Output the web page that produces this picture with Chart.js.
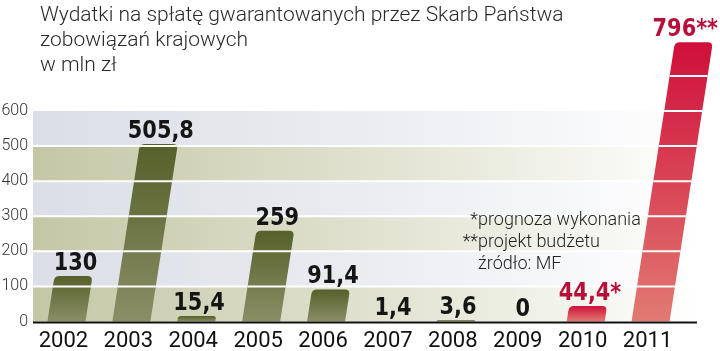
<!DOCTYPE html>
<html>
<head>
<meta charset="utf-8">
<script src="https://cdn.jsdelivr.net/npm/chart.js@4.4.0/dist/chart.umd.min.js"></script>
<style>
  html, body { margin: 0; padding: 0; background: #fff; }
</style>
</head>
<body>
<canvas id="c" width="720" height="351"></canvas>
<script>
// data
const years = ['2002', '2003', '2004', '2005', '2006', '2007', '2008', '2009', '2010', '2011'];
const values = [130, 505.8, 15.4, 259, 91.4, 1.4, 3.6, 0, 44.4, 796];
const valueLabels = ['130', '505,8', '15,4', '259', '91,4', '1,4', '3,6', '0', '44,4*', '796**'];
const isPlan = [false, false, false, false, false, false, false, false, true, true];
const yTicks = [0, 100, 200, 300, 400, 500, 600];
const titleLines = [
  'Wydatki na spłatę gwarantowanych przez Skarb Państwa',
  'zobowiązań krajowych',
  'w mln zł'
];
const notes = [['*', 'prognoza wykonania'], ['**', 'projekt budżetu'], ['', 'źródło: MF']];

const SKEW = 0.155; // bars lean right

function barPath(ctx, xb, top, base, w) {
  const h = base - top;
  const r = Math.min(5, h / 2);
  const dx = SKEW * h;
  const bl = xb - w / 2, br = xb + w / 2;
  const tl = bl + dx, tr = br + dx;
  ctx.beginPath();
  ctx.moveTo(bl, base);
  ctx.lineTo(tl - SKEW * r, top + r);
  ctx.quadraticCurveTo(tl, top, tl + r, top);
  ctx.lineTo(tr - r, top);
  ctx.quadraticCurveTo(tr, top, tr - SKEW * r, top + r);
  ctx.lineTo(br, base);
  ctx.closePath();
}

const paint = {
  id: 'paint',
  beforeDatasetsDraw(chart) {
    const { ctx, chartArea: a, scales: { y } } = chart;
    ctx.save();
    for (let i = 0; i < yTicks.length - 1; i++) {
      const y0 = y.getPixelForValue(yTicks[i]);
      const y1 = y.getPixelForValue(yTicks[i + 1]);
      const g = ctx.createLinearGradient(a.left, 0, a.right + 20, 0);
      if (i % 2 === 0) {
        g.addColorStop(0, '#c4c7a6');
        g.addColorStop(0.55, '#e3e4d3');
      } else {
        g.addColorStop(0, '#dbdee6');
        g.addColorStop(0.55, '#eceef2');
      }
      g.addColorStop(1, '#ffffff');
      ctx.fillStyle = g;
      ctx.fillRect(a.left + 2, y1, a.right + 20 - a.left, y0 - y1);
    }
    ctx.strokeStyle = '#ffffff';
    ctx.lineWidth = 2;
    yTicks.slice(1, -1).forEach(v => {
      const py = y.getPixelForValue(v);
      ctx.beginPath();
      ctx.moveTo(a.left + 2, py);
      ctx.lineTo(a.right + 20, py);
      ctx.stroke();
    });
    ctx.restore();
  },
  afterDatasetsDraw(chart) {
    const { ctx, chartArea: a, scales: { y } } = chart;
    const meta = chart.getDatasetMeta(0);
    meta.data.forEach((el, i) => {
      const p = el.getProps(['x', 'y', 'base', 'width'], true);
      const xb = p.x + 3;
      const h = p.base - p.y;
      ctx.save();
      if (h > 0.5) {
        const g = ctx.createLinearGradient(0, p.y, 0, p.base);
        if (isPlan[i]) {
          g.addColorStop(0, '#cf0f3a');
          g.addColorStop(1, '#e27a72');
        } else {
          g.addColorStop(0, '#56602a');
          g.addColorStop(1, '#8a8e66');
        }
        barPath(ctx, xb, p.y, p.base, p.width);
        ctx.fillStyle = g;
        ctx.fill();
        // white grid lines cut across the bar
        ctx.clip();
        ctx.strokeStyle = '#ffffff';
        ctx.lineWidth = 2;
        for (let v = 100; v < values[i]; v += 100) {
          const py = y.getPixelForValue(v);
          ctx.beginPath();
          ctx.moveTo(xb - 40, py);
          ctx.lineTo(xb + 200, py);
          ctx.stroke();
        }
      }
      ctx.restore();
      // value label above top of bar (narrowed bold face)
      ctx.save();
      const sx = 0.87;
      ctx.font = 'bold 24px "DejaVu Sans", sans-serif';
      ctx.fillStyle = isPlan[i] ? '#b70f3a' : '#151515';
      ctx.textAlign = 'center';
      ctx.textBaseline = 'alphabetic';
      const w = ctx.measureText(valueLabels[i]).width * sx;
      let cx = xb + SKEW * h + 2;
      cx = Math.min(cx, chart.width - 2 - w / 2);
      ctx.translate(cx, p.y - 6);
      ctx.scale(sx, 1);
      ctx.fillText(valueLabels[i], 0, 0);
      ctx.restore();
    });
    // base line
    const y0 = y.getPixelForValue(0);
    ctx.save();
    ctx.strokeStyle = '#111';
    ctx.lineWidth = 2;
    ctx.beginPath();
    ctx.moveTo(a.left + 2, y0 + 1);
    ctx.lineTo(a.right + 17, y0 + 1);
    ctx.stroke();
    ctx.restore();
  },
  afterDraw(chart) {
    const { ctx } = chart;
    ctx.save();
    ctx.fillStyle = '#2a2a2a';
    ctx.font = '300 21px Roboto, sans-serif';
    titleLines.forEach((t, i) => ctx.fillText(t, 40, 21 + i * 25));
    ctx.font = '300 18px Roboto, sans-serif';
    ctx.fillStyle = '#222';
    notes.forEach(([star, txt], i) => {
      const by = 225 + i * 22;
      ctx.textAlign = 'right';
      ctx.fillText(star, 478, by);
      ctx.textAlign = 'left';
      ctx.fillText(txt, 478, by);
    });
    ctx.restore();
  }
};

new Chart(document.getElementById('c'), {
  type: 'bar',
  data: {
    labels: years,
    datasets: [{
      data: values,
      backgroundColor: 'rgba(0,0,0,0)',
      borderWidth: 0,
      barThickness: 38,
      clip: false
    }]
  },
  options: {
    responsive: false,
    animation: false,
    layout: { padding: { top: 111, right: 40, left: 0, bottom: 0 } },
    plugins: { legend: { display: false }, tooltip: { enabled: false } },
    scales: {
      x: {
        afterFit(scale) { scale.height = 29.5; },
        grid: { display: false, drawTicks: false },
        border: { display: false },
        ticks: {
          color: '#111',
          padding: 6,
          font: { family: 'Roboto', size: 22, weight: '400', lineHeight: 1.27 }
        }
      },
      y: {
        min: 0,
        max: 600,
        afterFit(scale) { scale.width = 31; },
        afterBuildTicks(scale) { scale.ticks = yTicks.map(v => ({ value: v })); },
        grid: { display: false, drawTicks: false },
        border: { display: false },
        ticks: {
          color: '#333',
          padding: 3,
          font: { family: 'Roboto', size: 16, weight: '300' }
        }
      }
    }
  },
  plugins: [paint]
});
</script>
</body>
</html>
